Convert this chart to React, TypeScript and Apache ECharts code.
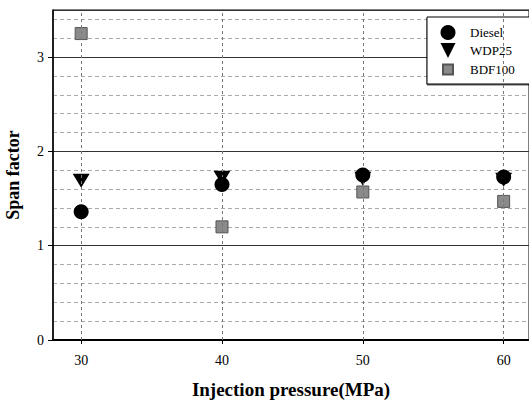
import React, { useEffect, useRef } from "react";
import * as echarts from "echarts";

const pressures = [30, 40, 50, 60];
const diesel = [1.36, 1.65, 1.75, 1.73];
const wdp25 = [1.69, 1.72, 1.71, 1.70];
const bdf100 = [3.25, 1.2, 1.57, 1.47];
const xTicks = [30, 40, 50, 60];

const serif = "'Liberation Serif', 'DejaVu Serif', serif";
const downTri = "path://M0,0 L10,0 L5,10 Z";
const smallSquareIcon = "path://M0,0 L0.01,0 M16,15 L15.99,15 M3,2.5 L13,2.5 L13,12.5 L3,12.5 Z";

export default function App() {
  const ref = useRef<HTMLDivElement>(null);
  useEffect(() => {
    if (!ref.current) return;
    const chart = echarts.init(ref.current, undefined, { renderer: "svg" });
    const pairs = (ys: number[]) => pressures.map((x, i) => [x, ys[i]]);
    chart.setOption({
      animation: false,
      backgroundColor: "#fff",
      grid: {
        left: 53,
        top: 10,
        right: 0,
        bottom: 60,
        containLabel: false,
        outerBoundsMode: "none",
        show: true,
        borderColor: "#000",
        borderWidth: 1,
      },
      legend: {
        orient: "vertical",
        left: 427,
        top: 17,
        padding: [8, 40, 6, 12],
        itemWidth: 16,
        itemHeight: 15,
        itemGap: 3,
        backgroundColor: "#fff",
        borderColor: "#000",
        borderWidth: 1,
        shadowColor: "rgba(0,0,0,0.6)",
        shadowOffsetY: 1,
        textStyle: { fontFamily: serif, fontSize: 13, color: "#000", padding: [0, 0, 0, 9] },
        data: ["Diesel", "WDP25", { name: "BDF100", icon: smallSquareIcon }],
      },
      xAxis: {
        type: "value",
        min: 28,
        max: 61.8,
        name: "Injection pressure(MPa)",
        nameLocation: "middle",
        nameGap: 40,
        nameTextStyle: { fontFamily: serif, fontSize: 19, fontWeight: "bold", color: "#000" },
        axisLine: { show: true, lineStyle: { color: "#000", width: 2 } },
        axisTick: { show: true, customValues: xTicks, length: 4, lineStyle: { color: "#000" } },
        axisLabel: {
          customValues: xTicks,
          fontFamily: serif,
          fontSize: 14,
          color: "#000",
          margin: 13,
        },
        splitLine: { show: false },
      },
      yAxis: {
        type: "value",
        min: 0,
        max: 3.5,
        interval: 1,
        name: "Span factor",
        nameLocation: "middle",
        nameGap: 31,
        nameTextStyle: { fontFamily: serif, fontSize: 18, fontWeight: "bold", color: "#000" },
        axisLine: { show: true, lineStyle: { color: "#000", width: 1.5 } },
        axisTick: { show: true, length: 5, lineStyle: { color: "#000" } },
        axisLabel: {
          fontFamily: serif,
          fontSize: 14,
          color: "#000",
          margin: 9,
          showMaxLabel: false,
          formatter: (v: number) => (Number.isInteger(v) ? String(v) : ""),
        },
        splitLine: { show: true, lineStyle: { color: "#333", width: 1 } },
        minorTick: { show: false, splitNumber: 5 },
        minorSplitLine: { show: true, lineStyle: { color: "#aaa", type: [4, 3], width: 1 } },
      },
      series: [
        {
          name: "BDF100",
          type: "scatter",
          symbol: "rect",
          symbolSize: 12,
          itemStyle: { color: "#8a8a8a", borderColor: "#555", borderWidth: 1, opacity: 1 },
          data: pairs(bdf100),
          z: 3,
          markLine: {
            silent: true,
            symbol: "none",
            label: { show: false },
            lineStyle: { color: "#777", type: [3, 3], width: 1 },
            data: xTicks.map((x) => ({ xAxis: x })),
          },
        },
        {
          name: "WDP25",
          type: "scatter",
          symbol: downTri,
          symbolSize: [17, 14],
          itemStyle: { color: "#000", opacity: 1 },
          data: pairs(wdp25),
          z: 4,
        },
        {
          name: "Diesel",
          type: "scatter",
          symbol: "circle",
          symbolSize: 15,
          itemStyle: { color: "#000", opacity: 1 },
          data: pairs(diesel),
          z: 5,
        },
      ],
    });
    return () => chart.dispose();
  }, []);
  return <div ref={ref} style={{ width: 529, height: 400, position: "absolute", left: 0, top: 0 }} />;
}
